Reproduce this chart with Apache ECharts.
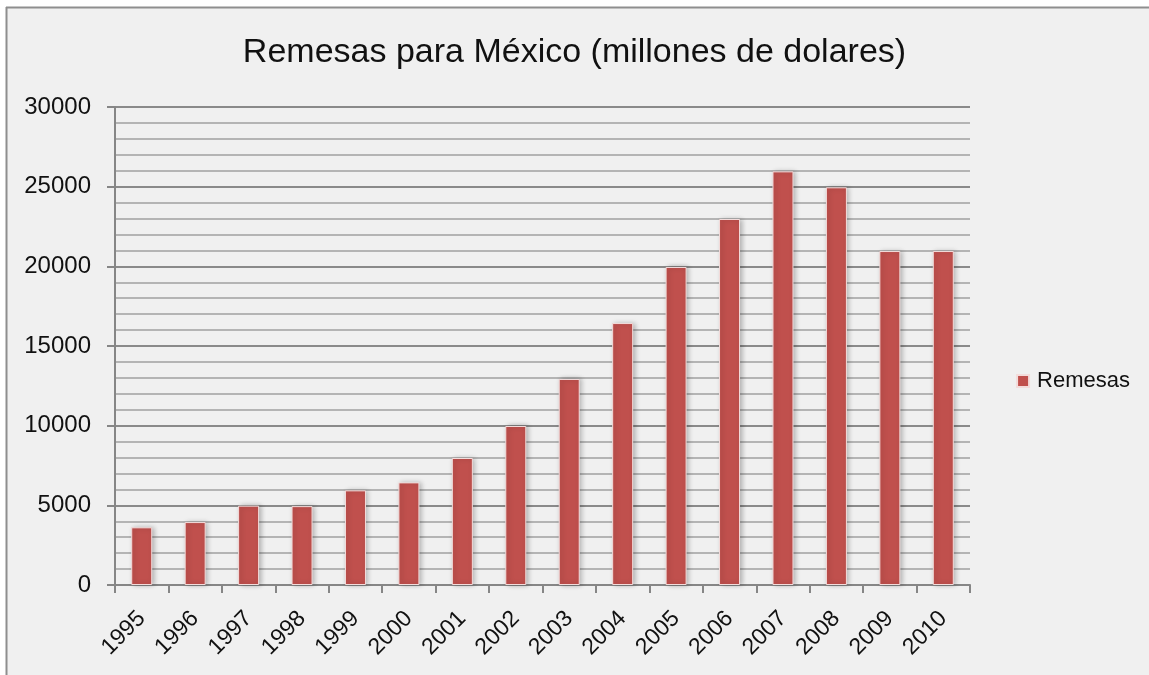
<!DOCTYPE html>
<html>
<head>
<meta charset="utf-8">
<script src="https://cdn.jsdelivr.net/npm/echarts@6/dist/echarts.min.js"></script>
<style>
  html, body { margin: 0; padding: 0; background: #ffffff; overflow: hidden; }
  #chart { width: 1149px; height: 675px; }
</style>
</head>
<body>
<div id="chart"></div>
<script>
// Annual remittances to Mexico, millions of dollars
const years = ['1995','1996','1997','1998','1999','2000','2001','2002','2003','2004','2005','2006','2007','2008','2009','2010'];
const remesas = [3620, 3950, 4980, 4950, 5940, 6440, 7970, 9980, 12930, 16440, 19960, 22970, 25960, 24960, 20960, 20960];
const yTicks = [0, 5000, 10000, 15000, 20000, 25000, 30000];

const FONT = '"Liberation Sans", Arial, sans-serif';

const chart = echarts.init(document.getElementById('chart'), null, { renderer: 'canvas' });
chart.setOption({
  backgroundColor: '#ffffff',
  animation: false,
  graphic: [
    {
      type: 'rect', z: -10, silent: true,
      shape: { x: 6, y: 7, width: 1143, height: 668 },
      style: { fill: '#f0f0f0' }
    },
    {
      type: 'line', z: -9, silent: true,
      shape: { x1: 6, y1: 7.5, x2: 1149, y2: 7.5 },
      style: { stroke: '#8e8e8e', lineWidth: 2 }
    },
    {
      type: 'line', z: -9, silent: true,
      shape: { x1: 6.5, y1: 7, x2: 6.5, y2: 675 },
      style: { stroke: '#8e8e8e', lineWidth: 2 }
    }
  ],
  title: {
    text: 'Remesas para México (millones de dolares)',
    left: 'center',
    top: 31,
    textStyle: { fontFamily: FONT, fontSize: 34, fontWeight: 'normal', color: '#111' }
  },
  legend: {
    right: 14,
    top: 365,
    orient: 'vertical',
    itemWidth: 12,
    itemHeight: 12,
    icon: 'rect',
    textStyle: { fontFamily: FONT, fontSize: 22, color: '#111', padding: [0, 0, 0, 3] },
    data: ['Remesas']
  },
  grid: { left: 115, top: 107, right: 179, bottom: 90, containLabel: false },
  xAxis: {
    type: 'category',
    data: years,
    axisLine: { lineStyle: { color: '#868686', width: 2 } },
    axisTick: { show: true, length: 8, alignWithLabel: false, lineStyle: { color: '#868686', width: 2 } },
    axisLabel: { rotate: 45, fontFamily: FONT, fontSize: 23, color: '#111', margin: 30, interval: 0 },
    splitLine: { show: false }
  },
  yAxis: {
    type: 'value',
    min: 0,
    max: 30000,
    interval: 5000,
    axisLine: { show: true, lineStyle: { color: '#868686', width: 2 } },
    axisTick: { show: true, length: 8, lineStyle: { color: '#868686', width: 2 } },
    minorTick: { show: false, splitNumber: 5 },
    axisLabel: {
      fontFamily: FONT, fontSize: 24, color: '#111', margin: 24,
      customValues: yTicks,
      formatter: function (v) { return String(v); }
    },
    splitLine: { show: true, lineStyle: { color: '#8a8a8a', width: 2 } },
    minorSplitLine: { show: true, lineStyle: { color: '#b4b4b4', width: 2 } }
  },
  series: [{
    name: 'Remesas',
    type: 'bar',
    data: remesas,
    barWidth: 21,
    itemStyle: {
      color: '#c0504d',
      borderColor: '#f3dcdb',
      borderWidth: 1,
      shadowBlur: 5,
      shadowColor: 'rgba(0,0,0,0.28)',
      shadowOffsetX: 2,
      shadowOffsetY: 0
    }
  }]
});
</script>
</body>
</html>
